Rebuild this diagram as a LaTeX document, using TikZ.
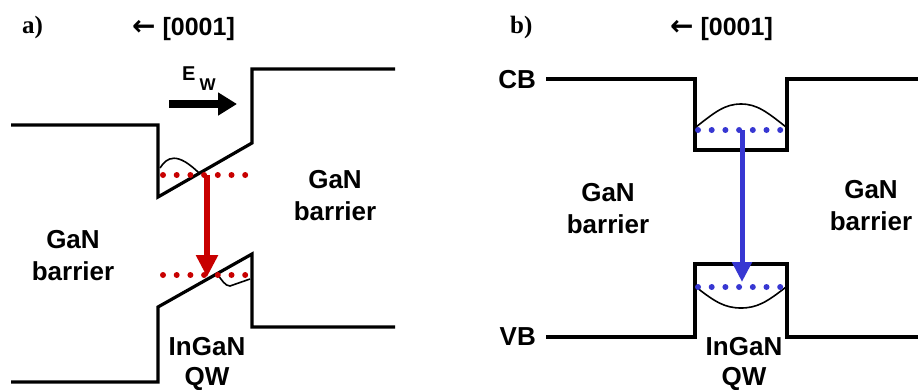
\documentclass[tikz,border=0pt]{standalone}
\usepackage{fontspec}
\setmainfont{Liberation Sans}
\newfontfamily\seriffont{Liberation Serif}
\newfontfamily\arrowfont{DejaVu Sans}
\usetikzlibrary{arrows.meta}
\definecolor{qred}{RGB}{200,0,0}
\definecolor{qblue}{RGB}{55,55,210}
\begin{document}
\begin{tikzpicture}[x=1pt,y=-1pt,
  band/.style={line width=3.2pt, line join=miter},
  wave/.style={line width=1.6pt},
  dotline/.style={line width=6pt, line cap=round, dash pattern=on 0pt off 13.7pt},
  lbl/.style={font=\bfseries\fontsize{26}{32}\selectfont, align=center, inner sep=0pt},
  qwlbl/.style={font=\bfseries\fontsize{26}{30}\selectfont, align=center, inner sep=0pt},
  hdr/.style={font=\bfseries\fontsize{25}{30}\selectfont, inner sep=0pt},
  panel/.style={font=\seriffont\bfseries\fontsize{25}{30}\selectfont, inner sep=0pt}]
\useasboundingbox (0,0) rectangle (918,389);
% ---------- panel a ----------
\node[panel, anchor=base west] (pa) at (22,33) {a)};
\node[hdr, anchor=base west] (ha) at (132,35) {{\arrowfont\fontsize{28}{30}\selectfont ←} [0001]};
\draw[band] (11,125) -- (158,125) -- (158,197) -- (252,143) -- (252,69) -- (395,69);
\draw[band] (11,382) -- (158,382) -- (158,307) -- (252,254) -- (252,327) -- (395,327);
\draw[wave] (160,168) .. controls (167,157) and (177,151) .. (200,174);
\draw[wave] (217,274) .. controls (222,280) and (225,286) .. (230,286) -- (250,279);
\draw[qred, dotline] (163,175) -- (247,175);
\draw[qred, dotline] (163,275) -- (247,275);
\coordinate (ra1) at (207,175);
\coordinate (ra2) at (207,277);
\draw[qred, line width=6pt, -{Triangle[width=21pt,length=22pt]}] (ra1) -- (ra2);
\node[inner sep=0pt, anchor=base west, font=\bfseries\fontsize{20}{24}\selectfont] (ew) at (182,80) {E\kern4pt\raisebox{-10pt}{\fontsize{17}{20}\selectfont W}};
\coordinate (ew1) at (169,104);
\coordinate (ew2) at (237,104);
\draw[line width=8pt, -{Triangle[width=22pt,length=19pt]}] (ew1) -- (ew2);
\node[lbl, anchor=base] (gaR) at (335,220) {GaN\\barrier};
\node[lbl, anchor=base] (gaL) at (73,280) {GaN\\barrier};
\node[qwlbl, anchor=base] (qwa) at (207,385) {InGaN\\QW};
% ---------- panel b ----------
\node[panel, anchor=base west] (pb) at (510,33) {b)};
\node[hdr, anchor=base west] (hb) at (670,35) {{\arrowfont\fontsize{28}{30}\selectfont ←} [0001]};
\node[lbl, anchor=base east] (cb) at (536,88) {CB};
\node[lbl, anchor=base east] (vb) at (536,345) {VB};
\draw[band] (546,79) -- (695,79) -- (695,150) -- (787,150) -- (787,79) -- (918,79);
\draw[band] (546,337) -- (695,337) -- (695,264) -- (787,264) -- (787,337) -- (918,337);
\draw[wave] (696,127) .. controls (715,112) and (725,104) .. (741,104) .. controls (757,104) and (767,112) .. (786,127);
\draw[wave] (696,287) .. controls (715,302) and (725,308) .. (741,308) .. controls (757,308) and (767,302) .. (786,287);
\draw[qblue, dotline] (698,130) -- (781,130);
\draw[qblue, dotline] (698,287) -- (781,287);
\coordinate (ba1) at (742,130);
\coordinate (ba2) at (742,282);
\draw[qblue, line width=5pt, -{Triangle[width=19pt,length=20pt]}] (ba1) -- (ba2);
\node[lbl, anchor=base] (gbL) at (608,233) {GaN\\barrier};
\node[lbl, anchor=base] (gbR) at (871,230) {GaN\\barrier};
\node[qwlbl, anchor=base] (qwb) at (744,385) {InGaN\\QW};
\end{tikzpicture}
\end{document}
